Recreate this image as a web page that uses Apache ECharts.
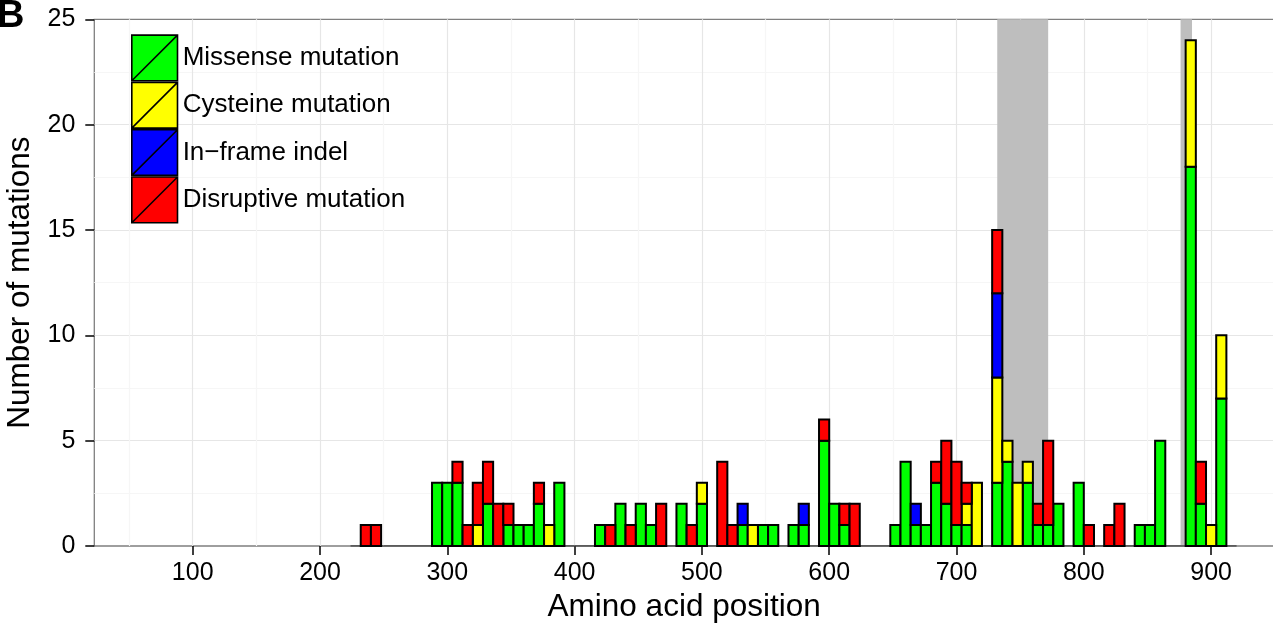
<!DOCTYPE html>
<html>
<head>
<meta charset="utf-8">
<script src="https://cdn.jsdelivr.net/npm/echarts@6/dist/echarts.min.js"></script>
<style>
html,body{margin:0;padding:0;background:#fff;}
#chart{width:1273px;height:623px;}
</style>
</head>
<body>
<div id="chart"></div>
<script>
// ---------- DATA ----------
// Histogram bins: width 8 amino acids; bin start positions of non-empty bins
const binWidth = 8;
const binStarts = [232,240,288,296,304,312,320,328,336,344,352,360,368,376,384,
  416,424,432,440,448,456,464,480,488,496,512,520,528,536,544,552,568,576,
  592,600,608,616,648,656,664,672,680,688,696,704,712,728,736,744,752,760,768,776,
  792,800,816,824,840,848,856,880,888,896,904];
const missense   = [0,0,3,3,3,0,0,2,0,1,1,1,2,0,3,
  1,0,2,0,2,1,0,2,0,2,0,0,1,0,1,1,1,1,
  5,2,1,0,1,4,1,1,3,2,1,1,0,3,4,0,3,1,1,2,
  3,0,0,0,1,1,5,18,2,0,7];
const cysteine   = [0,0,0,0,0,0,1,0,0,0,0,0,0,1,0,
  0,0,0,0,0,0,0,0,0,1,0,0,0,1,0,0,0,0,
  0,0,0,0,0,0,0,0,0,0,0,1,3,5,1,3,1,0,0,0,
  0,0,0,0,0,0,0,6,0,1,3];
const indel      = [0,0,0,0,0,0,0,0,0,0,0,0,0,0,0,
  0,0,0,0,0,0,0,0,0,0,0,0,1,0,0,0,0,1,
  0,0,0,0,0,0,1,0,0,0,0,0,0,4,0,0,0,0,0,0,
  0,0,0,0,0,0,0,0,0,0,0];
const disruptive = [1,1,0,0,1,1,2,2,2,1,0,0,1,0,0,
  0,1,0,1,0,0,2,0,1,0,4,1,0,0,0,0,0,0,
  1,0,1,2,0,0,0,0,1,3,3,1,0,3,0,0,0,1,4,0,
  0,1,1,2,0,0,0,0,2,0,0];
// Histogram range (zero-count bins are drawn as a flat outline)
const histRange = [224, 920];
// Shaded regions
const bandStart = [732, 876];
const bandEnd   = [772, 885];
// Axes
const xMin = 22.7, xMax = 949.4;
const xTicks = [100,200,300,400,500,600,700,800,900];
const xMinorTicks = [50,150,250,350,450,550,650,750,850,950];
const yMin = 0, yMax = 25, yStep = 5;

const categories = ['Missense mutation','Cysteine mutation','In\u2212frame indel','Disruptive mutation'];
const colors = ['#00ff00','#ffff00','#0000ff','#ff0000'];
const values = [missense, cysteine, indel, disruptive];

// ---------- BUILD ----------
const FONT = "'Liberation Sans', Arial, Helvetica, sans-serif";
const cum = binStarts.map(() => 0);
function renderBar(params, api) {
  const p0 = api.coord([api.value(0), api.value(3)]);
  const p1 = api.coord([api.value(1), api.value(2)]);
  return {
    type: 'rect',
    shape: {x: p0[0], y: p0[1], width: p1[0] - p0[0], height: p1[1] - p0[1]},
    style: {fill: api.visual('color'), stroke: '#000', lineWidth: 2}
  };
}
const barSeries = categories.map((name, ci) => {
  const data = [];
  binStarts.forEach((s, i) => {
    const v = values[ci][i];
    if (v > 0) {
      data.push([s, s + binWidth, cum[i], cum[i] + v]);
      cum[i] += v;
    }
  });
  return {
    type: 'custom', name: name, z: 5,
    itemStyle: {color: colors[ci], borderColor: '#000', borderWidth: 1.5},
    encode: {x: [0, 1], y: [2, 3]},
    renderItem: renderBar,
    data: data
  };
});

const bandSeries = {
  type: 'custom', name: 'bands', z: 1, silent: true,
  encode: {x: [0, 1]},
  renderItem: function (params, api) {
    const a = api.coord([api.value(0), yMax]);
    const b = api.coord([api.value(1), yMin]);
    return {type: 'rect', shape: {x: a[0], y: a[1], width: b[0] - a[0], height: b[1] - a[1]},
      style: {fill: '#bebebe'}};
  },
  data: bandStart.map((s, i) => [s, bandEnd[i]])
};

const baseSeries = {
  type: 'line', name: 'base', z: 3, silent: true, symbol: 'none',
  lineStyle: {color: '#444', width: 1.4},
  data: [[histRange[0], 0], [histRange[1], 0]]
};

const chart = echarts.init(document.getElementById('chart'), null, {renderer: 'canvas'});
chart.setOption({
  animation: false,
  backgroundColor: '#fff',
  textStyle: {fontFamily: FONT},
  grid: {left: 94.3, right: -1, top: 19.3, bottom: 77, show: true, outerBoundsMode: 'none',
    containLabel: false,
    borderColor: '#7f7f7f', borderWidth: 1.3, backgroundColor: 'transparent'},
  legend: {
    data: categories, orient: 'vertical', left: 131, top: 34.3, padding: 0,
    itemWidth: 46, itemHeight: 45.7, itemGap: 0,
    icon: 'path://M0 0H10V10H0Z M0 10L10 0',
    itemStyle: {borderColor: '#000', borderWidth: 1.6},
    textStyle: {fontSize: 26, color: '#000', fontFamily: FONT},
    selectedMode: false
  },
  graphic: [{
    type: 'text', left: -3, top: -2,
    style: {text: 'B', font: "bold 38px 'Liberation Sans', Arial, sans-serif", fill: '#000'}
  }],
  xAxis: [{
    type: 'value', min: xMin, max: xMax,
    axisLine: {show: false},
    axisTick: {show: true, customValues: xTicks, length: 9, lineStyle: {color: '#000', width: 1.5}},
    axisLabel: {customValues: xTicks, fontSize: 25, color: '#000', margin: 15, fontFamily: FONT},
    splitLine: {show: true, lineStyle: {color: '#e6e6e6', width: 1.2}},
    name: 'Amino acid position', nameLocation: 'middle', nameGap: 44,
    nameTextStyle: {fontSize: 31.5, color: '#000', fontFamily: FONT}
  }, {
    type: 'value', min: xMin, max: xMax, position: 'bottom',
    axisLine: {show: false},
    axisTick: {show: false, customValues: xMinorTicks},
    axisLabel: {show: false, customValues: xMinorTicks},
    splitLine: {show: true, lineStyle: {color: '#f6f6f6', width: 1.2}}
  }],
  yAxis: {
    type: 'value', min: yMin, max: yMax, interval: yStep,
    axisLine: {show: false},
    axisTick: {show: true, length: 9, lineStyle: {color: '#000', width: 1.5}},
    axisLabel: {fontSize: 25, color: '#000', margin: 19, fontFamily: FONT},
    splitLine: {show: true, showMinLine: false, showMaxLine: false, lineStyle: {color: '#e6e6e6', width: 1.2}},
    minorTick: {show: false, splitNumber: 2},
    minorSplitLine: {show: true, lineStyle: {color: '#f6f6f6', width: 1.2}},
    name: 'Number of mutations', nameLocation: 'middle', nameGap: 50,
    nameTextStyle: {fontSize: 31.5, color: '#000', fontFamily: FONT}
  },
  series: [bandSeries, baseSeries].concat(barSeries)
});
</script>
</body>
</html>
